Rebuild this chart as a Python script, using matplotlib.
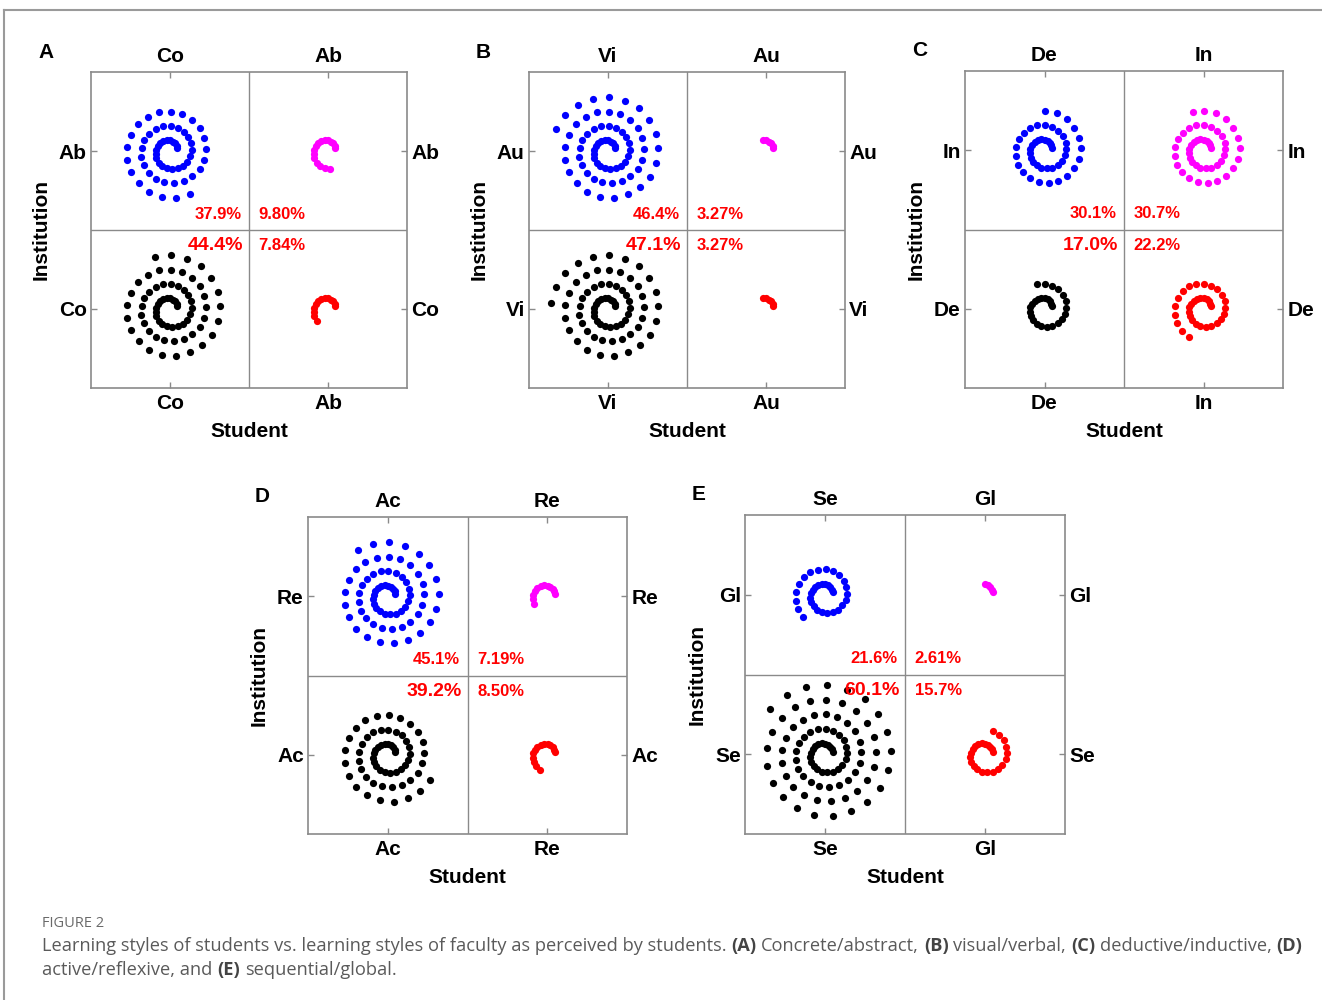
import numpy as np
import matplotlib
matplotlib.use("Agg")
import matplotlib.pyplot as plt
from matplotlib.lines import Line2D

# ---- data -------------------------------------------------------------
panel_letters = ["A", "B", "C", "D", "E"]
first_style = ["Co", "Vi", "De", "Ac", "Se"]    # left column / bottom row
second_style = ["Ab", "Au", "In", "Re", "Gl"]   # right column / top row

# percentages per quadrant (student x institution)
pct_top_left = [37.9, 46.4, 30.1, 45.1, 21.6]      # student first, institution second
pct_top_right = [9.80, 3.27, 30.7, 7.19, 2.61]     # both second
pct_bottom_left = [44.4, 47.1, 17.0, 39.2, 60.1]   # both first
pct_bottom_right = [7.84, 3.27, 22.2, 8.50, 15.7]  # student second, institution first

label_top_left = ["37.9%", "46.4%", "30.1%", "45.1%", "21.6%"]
label_top_right = ["9.80%", "3.27%", "30.7%", "7.19%", "2.61%"]
label_bottom_left = ["44.4%", "47.1%", "17.0%", "39.2%", "60.1%"]
label_bottom_right = ["7.84%", "3.27%", "22.2%", "8.50%", "15.7%"]

# ---- figure -----------------------------------------------------------
W, H = 1322, 1000
fig = plt.figure(figsize=(W / 100, H / 100), dpi=100)
fig.patch.set_facecolor("white")

FONT = "Liberation Sans"
GRID = "#8a8a8a"

# axes boxes in pixels: left, top, right, bottom
boxes = [
    (91, 72, 407, 388),
    (529, 72, 845, 388),
    (965, 71, 1283, 388),
    (308, 517, 627, 834),
    (745, 515, 1065, 834),
]

# spiral geometry (data units; each quadrant spans 1 unit)
STEP = 2 * np.pi / 21          # angular step between dots
RAD_PER_PCT = 0.455            # angular length of the spiral per percent
R0 = 0.05                      # starting radius
GROWTH = 0.0145                # radius gain per radian
PHI0 = np.deg2rad(20)          # starting angle


def spiral(pct, cx, cy):
    n = int(round(pct * RAD_PER_PCT / STEP)) + 1
    t = np.arange(n) * STEP
    r = R0 + GROWTH * t
    return cx + r * np.cos(PHI0 + t), cy + r * np.sin(PHI0 + t)


quad_colors = {"tl": "#0000ff", "tr": "#ff00ff", "bl": "#000000", "br": "#ff0000"}

for i, (l, t, r, b) in enumerate(boxes):
    ax = fig.add_axes([l / W, 1 - b / H, (r - l) / W, (b - t) / H])
    ax.set_xlim(0, 2)
    ax.set_ylim(0, 2)
    for s in ax.spines.values():
        s.set_color(GRID)
        s.set_linewidth(1.2)
    ax.axvline(1, color=GRID, lw=1.0)
    ax.axhline(1, color=GRID, lw=1.0)

    quads = [
        ("tl", pct_top_left[i], 0.5, 1.5),
        ("tr", pct_top_right[i], 1.5, 1.5),
        ("bl", pct_bottom_left[i], 0.5, 0.5),
        ("br", pct_bottom_right[i], 1.5, 0.5),
    ]
    for key, pct, cx, cy in quads:
        xs, ys = spiral(pct, cx, cy)
        ax.scatter(xs, ys, s=27, color=quad_colors[key], linewidths=0, zorder=3)

    lab_kw = dict(color="#ff0000", fontweight="bold", family=FONT, va="center")
    ax.text(0.955, 1.10, label_top_left[i], ha="right", fontsize=12, **lab_kw)
    ax.text(1.06, 1.10, label_top_right[i], ha="left", fontsize=12, **lab_kw)
    ax.text(0.965, 0.90, label_bottom_left[i], ha="right", fontsize=14, **lab_kw)
    ax.text(1.06, 0.90, label_bottom_right[i], ha="left", fontsize=12, **lab_kw)

    ticks = [0.5, 1.5]
    xl = [first_style[i], second_style[i]]
    ax.set_xticks(ticks)
    ax.set_yticks(ticks)
    ax.set_xticklabels(xl)
    ax.set_yticklabels(xl)
    ax.tick_params(axis="both", which="both", direction="in", length=4,
                   width=1, color=GRID, top=True, right=True,
                   labeltop=True, labelright=True, labelsize=15)
    ax.tick_params(axis="x", pad=4)
    ax.tick_params(axis="y", pad=3)

    ax.set_xlabel("Student", fontsize=15, fontweight="bold", family=FONT, labelpad=7)
    ax.set_ylabel("Institution", fontsize=15, fontweight="bold", family=FONT, labelpad=6)

    for tk in ax.xaxis.get_major_ticks() + ax.yaxis.get_major_ticks():
        for lab in (tk.label1, tk.label2):
            lab.set_fontweight("bold")
            lab.set_family(FONT)

    # panel letter
    fig.text((l - 53) / W, 1 - (t - 20) / H, panel_letters[i], fontsize=15,
             fontweight="bold", family=FONT, ha="left", va="center")

# ---- outer frame ------------------------------------------------------
fig.add_artist(Line2D([4 / W, 1], [1 - 10 / H, 1 - 10 / H], color="#9a9a9a", lw=1.5,
                      transform=fig.transFigure))
fig.add_artist(Line2D([4 / W, 4 / W], [0, 1 - 10 / H], color="#9a9a9a", lw=1.5,
                      transform=fig.transFigure))

# ---- caption ----------------------------------------------------------
CAP_FONT = "Open Sans"
CAP_COLOR = "#5a5a5a"
fig.text(42 / W, 1 - 927 / H, "FIGURE 2", fontsize=10.5, color="#6a6a6a",
         family=CAP_FONT, va="baseline", ha="left")

renderer = fig.canvas.get_renderer()


def text_width(s, weight, size):
    t = fig.text(0, 0, s, fontsize=size, fontweight=weight, family=CAP_FONT)
    w = t.get_window_extent(renderer).width
    t.remove()
    return w


def rich_line(x_px, y_px, parts, size=13.15):
    space = text_width("x x", "normal", size) - text_width("xx", "normal", size)
    x = x_px
    for s, bold in parts:
        weight = "bold" if bold else "normal"
        fig.text(x / W, 1 - y_px / H, s, fontsize=size, fontweight=weight,
                 family=CAP_FONT, color="#444444" if bold else CAP_COLOR,
                 va="baseline", ha="left")
        x += text_width(s, weight, size) + space


line1 = [
    ("Learning styles of students vs. learning styles of faculty as perceived by students.", False),
    ("(A)", True), ("Concrete/abstract,", False),
    ("(B)", True), ("visual/verbal,", False),
    ("(C)", True), ("deductive/inductive,", False),
    ("(D)", True),
]
line2 = [
    ("active/reflexive, and", False),
    ("(E)", True), ("sequential/global.", False),
]
rich_line(42, 951, line1)
rich_line(42, 975, line2)

fig.savefig("out.png", dpi=100, facecolor="white")
